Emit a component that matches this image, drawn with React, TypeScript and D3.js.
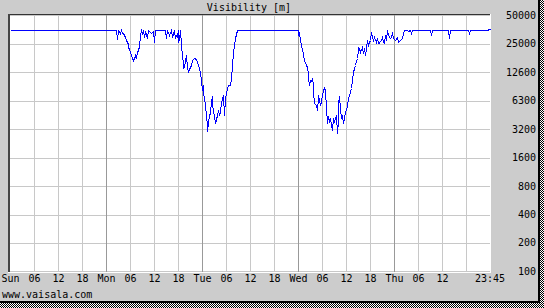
import React from 'react';
import * as d3 from 'd3';

const hours: number[] = [
  0, 26.5, 26.75, 27, 27.25, 27.5, 27.75, 28, 28.25, 28.5, 28.75, 29, 29.2, 29.4, 29.6, 29.75,
  30, 30.25, 30.4, 30.7, 30.9, 31.1, 31.25, 31.5, 31.75, 31.9, 32.1, 32.3, 32.5, 32.75, 33,
  33.25, 33.5, 33.75, 34, 34.25, 34.5, 35, 35.25, 35.75, 36.1, 36.25, 38.75, 38.9, 39.2, 39.75,
  40.25, 40.6, 41, 41.25, 41.7, 41.9, 42.1, 42.25, 42.45, 42.7, 42.85, 43, 43.2, 43.35, 43.6,
  44, 44.3, 44.6, 45.2, 45.6, 46, 46.5, 47.1, 47.5, 47.7, 47.9, 48.2, 48.35, 48.6, 48.75, 49,
  49.2, 49.35, 49.6, 49.8, 50, 50.25, 50.4, 50.6, 50.8, 51.1, 51.3, 51.7, 51.9, 52.2, 52.5,
  52.75, 53.1, 53.3, 53.6, 53.75, 54.2, 54.6, 55, 55.25, 55.5, 55.8, 56.25, 56.7,
  72, 72.1, 72.25, 72.5, 72.75, 73.1, 73.3, 73.6, 73.9, 74.2, 74.4, 74.6, 74.8, 75, 75.25,
  75.4, 75.7, 75.8, 76.1, 76.4, 76.7, 76.9, 77.1, 77.25, 77.5, 77.75, 78.1, 78.3, 78.6, 78.75,
  78.9, 79.2, 79.4, 79.75, 80, 80.25, 80.6, 80.8, 81.1, 81.4, 81.7, 81.9, 82.1, 82.3, 82.5,
  82.75, 82.9, 83.2, 83.4, 83.75, 84, 84.25, 84.6, 84.8, 85.2, 85.4, 85.7, 86, 86.25, 86.5,
  86.75, 86.9, 87.1, 87.3, 87.6, 87.9, 88.2, 88.4, 88.75, 89, 89.25, 89.6, 89.75, 90, 90.25,
  90.6, 90.8, 91.1, 91.4, 91.75, 92.1, 92.5, 92.9, 93.2, 93.4, 93.75, 94, 94.25, 94.6, 95,
  95.2, 95.4, 95.8, 96.25, 96.7, 97.1, 97.5, 97.9, 98.3, 98.6, 99.25, 99.6, 100, 100.25, 100.5,
  105, 105.25, 105.5, 109.5, 109.75, 110, 114.6, 114.8, 115, 119.4, 119.6, 119.9,
];

const visibility: number[] = [
  36000, 36000, 28900, 36000, 35100, 33450, 36000, 33450, 33450, 31860, 30580, 28220, 27070, 25600, 23970, 22670,
  21220, 19590, 18060, 17350, 18800, 17770, 19590, 18660, 21070, 22120, 22670, 23970, 31860, 36000, 33450,
  36000, 30580, 34270, 32650, 29410, 36000, 34270, 33450, 35120, 27070, 36000, 36000, 29410, 36000, 31860,
  36000, 30580, 36000, 29410, 33210, 27070, 36000, 28220, 36000, 24990, 23970, 20570, 15360, 14180, 14630,
  19590, 14180, 13280, 15360, 17350, 18350, 17770, 15360, 13040, 10660, 8360, 9440, 7970, 6830, 5810, 4550,
  3580, 3090, 3850, 4370, 4900, 6290, 7100, 6100, 4930, 4550, 3730, 4550, 5140, 4550, 4930,
  6050, 6830, 7400, 4550, 6830, 8710, 9290, 9440, 11110, 15360, 21220, 29410, 36000,
  36000, 31860, 33210, 28220, 24990, 22120, 20420, 16650, 15620, 14180, 12550, 11550, 9440, 10660, 10230,
  11110, 9440, 8020, 6050, 5810, 5140, 6830, 7400, 6560, 5810, 6290, 7400, 8360, 8710, 8360,
  5360, 3730, 4370, 3880, 4200, 3580, 3170, 4200, 3880, 4550, 2920, 3880, 6050, 7100, 5360,
  4200, 4550, 3730, 4200, 4930, 5140, 5810, 6830, 7400, 8710, 10660, 13040, 14180, 15360, 16650,
  18060, 22120, 23970, 23300, 21220, 23970, 20420, 23300, 19590, 23300, 28220, 24990, 27070, 28220, 34530,
  30580, 28220, 30580, 27070, 29410, 26040, 27070, 30580, 27070, 26040, 31860, 28220, 36000, 31860, 29410,
  30580, 34530, 29410, 28220, 30580, 27070, 28220, 29410, 33210, 36000, 36000, 35120, 36000, 33210, 36000,
  36000, 31860, 36000, 36000, 29840, 36000, 36000, 33210, 36000, 36000, 36600, 36600,
];

const yTickValues = [51200, 25600, 12800, 6400, 3200, 1600, 800, 400, 200, 100];
const yTickLabels = ['50000', '25000', '12600', '6300', '3200', '1600', '800', '400', '200', '100'];
const xTickHours = [0, 6, 12, 18, 24, 30, 36, 42, 48, 54, 60, 66, 72, 78, 84, 90, 96, 102, 108];
const xTickLabels = ['Sun', '06', '12', '18', 'Mon', '06', '12', '18', 'Tue', '06', '12', '18', 'Wed', '06', '12', '18', 'Thu', '06', '12'];
const gridHours = [6, 12, 18, 30, 36, 42, 54, 60, 66, 78, 84, 90, 102, 108, 114];
const dayHours = [24, 48, 72, 96];
const endHour = 120;
const endLabel = '23:45';
const title = 'Visibility [m]';
const footer = 'www.vaisala.com';

export default function App() {
  const W = 544;
  const H = 308;
  const x = d3.scaleLinear().domain([0, endHour]).range([10, 490]);
  const y = d3.scaleLog().domain([100, 51200]).range([271.4, 15.4]);
  const px = (v: number) => Math.round(v) + 0.5;
  const line = d3
    .line<number>()
    .x((_, i) => px(x(hours[i])))
    .y((d) => px(y(d)));
  const font = '"DejaVu Sans Mono", monospace';

  return (
    <svg
      width={W}
      height={H}
      style={{ position: 'absolute', left: 0, top: 0, display: 'block' }}
      fontFamily={font}
      fontSize={10}
    >
      <defs>
        <pattern id="chk" width="2" height="2" patternUnits="userSpaceOnUse">
          <rect width="2" height="2" fill="#ffffff" />
          <rect width="1" height="1" fill="#000000" />
          <rect x="1" y="1" width="1" height="1" fill="#000000" />
        </pattern>
      </defs>
      <rect width={W} height={H} fill="url(#chk)" />
      <rect width={540} height={303} fill="#000000" />
      <rect width={538} height={301} fill="#cccccc" />
      <rect x={10} y={15} width={481} height={258} fill="#ffffff" />

      {yTickValues.map((v) => (
        <line key={'h' + v} x1={10} x2={490} y1={px(y(v))} y2={px(y(v))} stroke="#c8c8c8" shapeRendering="crispEdges" />
      ))}
      {gridHours.map((h) => (
        <line key={'v' + h} x1={px(x(h))} x2={px(x(h))} y1={15} y2={272} stroke="#c8c8c8" shapeRendering="crispEdges" />
      ))}
      {dayHours.map((h) => (
        <line key={'d' + h} x1={px(x(h))} x2={px(x(h))} y1={15} y2={272} stroke="#999999" shapeRendering="crispEdges" />
      ))}

      <rect x={8} y={14} width={483} height={1} fill="#333333" />
      <rect x={8} y={14} width={2} height={259} fill="#444444" />
      <rect x={490} y={14} width={1} height={259} fill="#ffffff" />
      <rect x={8} y={272} width={483} height={1} fill="#ffffff" />

      <path d={line(visibility) || ''} fill="none" stroke="#0000ff" strokeWidth={1} shapeRendering="crispEdges" />

      <text x={249} y={11} textAnchor="middle" fill="#000">{title}</text>
      {yTickValues.map((v, i) => (
        <text key={'yl' + v} x={536} y={y(v) + 3.5} textAnchor="end" fill="#000">{yTickLabels[i]}</text>
      ))}
      {xTickHours.map((h, i) => (
        <text key={'xl' + h} x={x(h) + 0.5} y={282} textAnchor="middle" fill="#000">{xTickLabels[i]}</text>
      ))}
      <text x={x(endHour)} y={282} textAnchor="middle" fill="#000">{endLabel}</text>
      <text x={2} y={298} fill="#000">{footer}</text>
    </svg>
  );
}
